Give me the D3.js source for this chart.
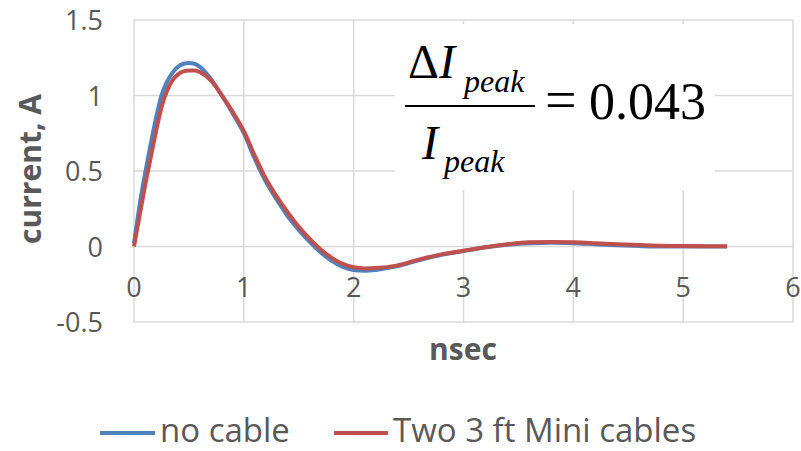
<!DOCTYPE html>
<html>
<head>
<meta charset="utf-8">
<script src="https://cdn.jsdelivr.net/npm/d3@7"></script>
<style>
  html, body { margin: 0; padding: 0; background: #fff; }
  #chart { width: 801px; height: 451px; }
</style>
</head>
<body>
<div id="chart"></div>
<script>
// time axis, nsec
const times = [0, 0.05, 0.1, 0.15, 0.2, 0.25, 0.3, 0.35, 0.4, 0.45, 0.5, 0.55, 0.6, 0.7, 0.8, 0.9,
  1.0, 1.1, 1.2, 1.3, 1.4, 1.5, 1.6, 1.7, 1.8, 1.9, 2.0, 2.1, 2.2, 2.4, 2.6, 2.8,
  3.0, 3.2, 3.4, 3.6, 3.8, 4.0, 4.2, 4.4, 4.6, 4.8, 5.0, 5.2, 5.4];

// current, A
const noCable = [0.02, 0.27, 0.48, 0.67, 0.85, 1.0, 1.09, 1.15, 1.19, 1.21, 1.215, 1.21, 1.19, 1.11, 1.0, 0.88,
  0.75, 0.58, 0.43, 0.31, 0.2, 0.11, 0.03, -0.04, -0.095, -0.135, -0.155, -0.16, -0.155, -0.13, -0.09, -0.055,
  -0.03, -0.005, 0.012, 0.022, 0.025, 0.022, 0.015, 0.008, 0.003, 0.0, 0.0, 0.0, 0.0];

const twoMiniCables = [0.0, 0.2, 0.4, 0.58, 0.76, 0.92, 1.03, 1.1, 1.14, 1.16, 1.165, 1.165, 1.155, 1.1, 1.0, 0.89,
  0.765, 0.6, 0.45, 0.33, 0.225, 0.13, 0.05, -0.02, -0.075, -0.115, -0.138, -0.145, -0.143, -0.125, -0.085, -0.052,
  -0.028, -0.005, 0.015, 0.028, 0.03, 0.028, 0.022, 0.015, 0.01, 0.005, 0.003, 0.002, 0.002];

const xTicks = [0, 1, 2, 3, 4, 5, 6];
const yTicks = [-0.5, 0, 0.5, 1, 1.5];

const seriesNames = ['no cable', 'Two 3 ft Mini cables'];
const seriesColors = ['#4F81BD', '#C0504D'];

const W = 801, H = 451;
const textColor = '#595959';
const gridColor = '#d9d9d9';
const sansFont = '"Open Sans", sans-serif';
const serifFont = '"Liberation Serif", "Times New Roman", serif';

const svg = d3.select('#chart')
  .append('svg')
  .attr('width', W)
  .attr('height', H);

svg.append('rect').attr('width', W).attr('height', H).attr('fill', '#fff');

const x = d3.scaleLinear().domain([0, 6]).range([134, 793]);
const y = d3.scaleLinear().domain([-0.5, 1.5]).range([322, 20]);

// gridlines
svg.append('g')
  .selectAll('line')
  .data(yTicks)
  .join('line')
  .attr('x1', x(0)).attr('x2', x(6))
  .attr('y1', d => y(d)).attr('y2', d => y(d))
  .attr('stroke', gridColor)
  .attr('stroke-width', 1.5);

svg.append('g')
  .selectAll('line')
  .data(xTicks)
  .join('line')
  .attr('x1', d => x(d)).attr('x2', d => x(d))
  .attr('y1', y(1.5)).attr('y2', y(-0.5))
  .attr('stroke', gridColor)
  .attr('stroke-width', 1.5);

// tick labels
svg.append('g')
  .selectAll('text')
  .data(yTicks)
  .join('text')
  .attr('x', 103)
  .attr('y', d => y(d) + 10)
  .attr('text-anchor', 'end')
  .style('font-family', sansFont)
  .style('font-size', '27px')
  .style('fill', textColor)
  .text(d => d);

svg.append('g')
  .selectAll('text')
  .data(xTicks)
  .join('text')
  .attr('x', d => x(d))
  .attr('y', 297)
  .attr('text-anchor', 'middle')
  .style('font-family', sansFont)
  .style('font-size', '27px')
  .style('fill', textColor)
  .text(d => d);

// axis titles
svg.append('text')
  .attr('transform', 'translate(41,169) rotate(-90)')
  .attr('text-anchor', 'middle')
  .style('font-family', sansFont)
  .style('font-size', '30px')
  .style('font-weight', 'bold')
  .style('fill', textColor)
  .text('current, A');

svg.append('text')
  .attr('x', 463)
  .attr('y', 360)
  .attr('text-anchor', 'middle')
  .style('font-family', sansFont)
  .style('font-size', '30px')
  .style('font-weight', 'bold')
  .style('fill', textColor)
  .text('nsec');

// series
const line = d3.line()
  .x(d => x(d[0]))
  .y(d => y(d[1]))
  .curve(d3.curveMonotoneX);

[noCable, twoMiniCables].forEach((vals, i) => {
  svg.append('path')
    .datum(times.map((t, j) => [t, vals[j]]))
    .attr('fill', 'none')
    .attr('stroke', seriesColors[i])
    .attr('stroke-width', 4)
    .attr('stroke-linejoin', 'round')
    .attr('d', line);
});

// formula box
const fg = svg.append('g');
fg.append('rect')
  .attr('x', 395).attr('y', 24)
  .attr('width', 320).attr('height', 166)
  .attr('fill', '#fff');

const num = fg.append('text')
  .attr('x', 408).attr('y', 78)
  .style('font-family', serifFont)
  .style('font-size', '48px')
  .style('fill', '#000');
num.append('tspan').text('\u0394');
num.append('tspan').style('font-style', 'italic').text('I');

fg.append('text')
  .attr('x', 464).attr('y', 92)
  .style('font-family', serifFont)
  .style('font-size', '32px')
  .style('font-style', 'italic')
  .style('fill', '#000')
  .text('peak');

fg.append('line')
  .attr('x1', 405).attr('x2', 535)
  .attr('y1', 106).attr('y2', 106)
  .attr('stroke', '#000')
  .attr('stroke-width', 2);

fg.append('text')
  .attr('x', 422).attr('y', 159)
  .style('font-family', serifFont)
  .style('font-size', '48px')
  .style('font-style', 'italic')
  .style('fill', '#000')
  .text('I');

fg.append('text')
  .attr('x', 444).attr('y', 172)
  .style('font-family', serifFont)
  .style('font-size', '32px')
  .style('font-style', 'italic')
  .style('fill', '#000')
  .text('peak');

fg.append('text')
  .attr('x', 545).attr('y', 119)
  .style('font-family', serifFont)
  .style('font-size', '56px')
  .style('fill', '#000')
  .text('=');

fg.append('text')
  .attr('x', 589).attr('y', 119)
  .style('font-family', serifFont)
  .style('font-size', '52px')
  .style('fill', '#000')
  .text('0.043');

// legend
const legendItems = [
  { name: seriesNames[0], color: seriesColors[0], x1: 100, x2: 155, tx: 160 },
  { name: seriesNames[1], color: seriesColors[1], x1: 334, x2: 388, tx: 393 }
];
const legend = svg.append('g');
legendItems.forEach(it => {
  legend.append('line')
    .attr('x1', it.x1).attr('x2', it.x2)
    .attr('y1', 433).attr('y2', 433)
    .attr('stroke', it.color)
    .attr('stroke-width', 4);
  legend.append('text')
    .attr('x', it.tx).attr('y', 442)
    .style('font-family', sansFont)
    .style('font-size', '33px')
    .style('fill', textColor)
    .text(it.name);
});
</script>
</body>
</html>
